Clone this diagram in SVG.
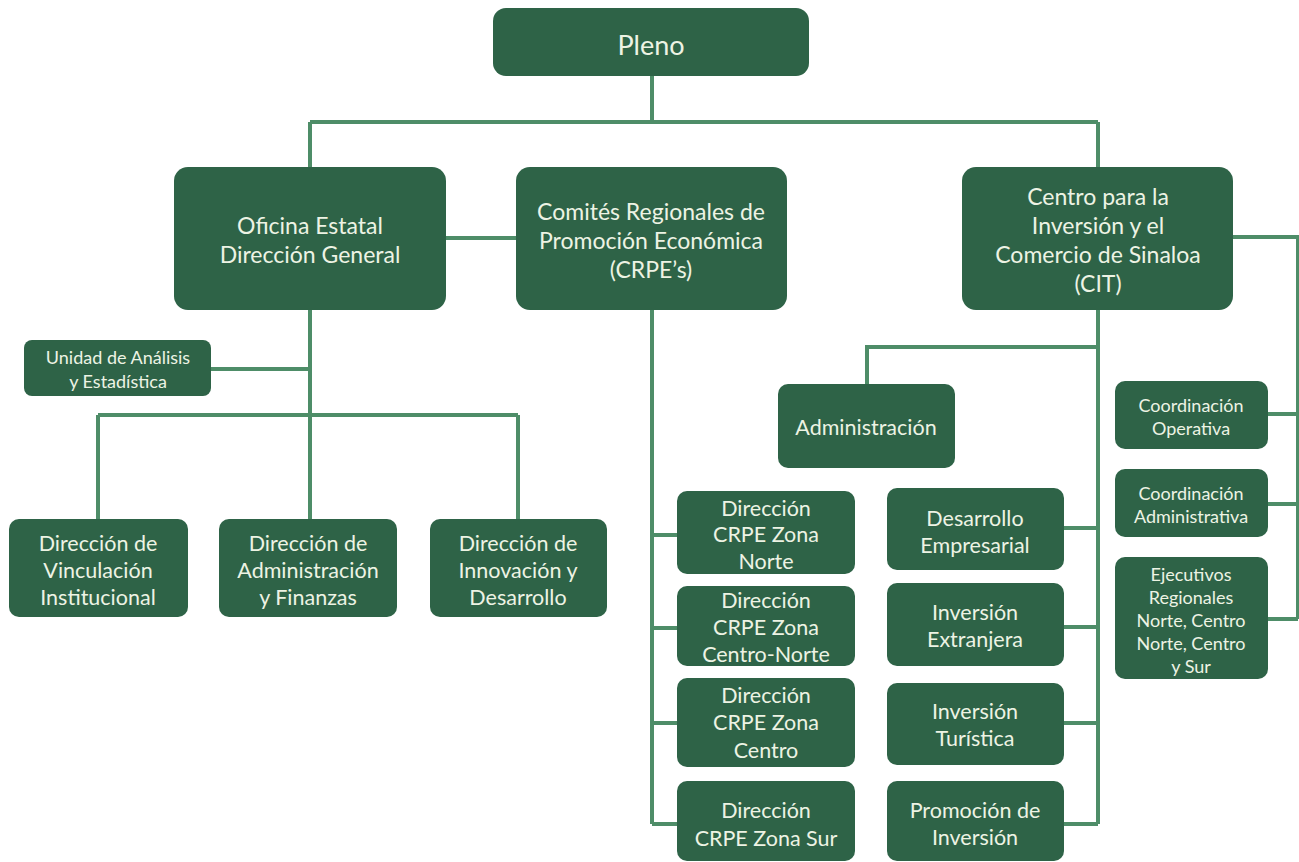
<svg xmlns="http://www.w3.org/2000/svg" width="1299" height="862" viewBox="0 0 1299 862">
<style>
.b{fill:#2e6347}
.t{fill:#edf3e4;font-family:Lato,"Open Sans",sans-serif;text-anchor:middle;dominant-baseline:central}
.l{fill:none;stroke:#4e8d68;stroke-width:4}
.s16{font-size:18px}.s20{font-size:21.5px}.s21{font-size:23px}.s23{font-size:27px}
</style>
<rect width="1299" height="862" fill="#ffffff"/>
<g id="connectors" class="l">
<path d="M652 76V122M310 122H1098M310 122V168M1098 122V168"/>
<path d="M446 238H516"/>
<path d="M1233 237H1298V619M1268 414H1298M1268 504H1298M1268 619H1298"/>
<path d="M310 310V415M211 369H310M98 415H518M98 415V519M310 415V519M518 415V519"/>
<path d="M652 310V824M652 535H677M652 628H677M652 723H677M652 824H677"/>
<path d="M1098 310V824M1098 347H867V384M1064 528H1098M1064 627H1098M1064 723H1098M1064 824H1098"/>
</g>
<g id="pleno"><rect class="b" x="493" y="8" width="316" height="68" rx="13"/><text class="t s23" x="651" y="44">Pleno</text></g>
<g id="oficina"><rect class="b" x="174" y="167" width="272" height="143" rx="14"/><text class="t s21" x="310"><tspan x="310" y="225">Oficina Estatal</tspan><tspan x="310" y="254">Dirección General</tspan></text></g>
<g id="crpe"><rect class="b" x="516" y="167" width="271" height="143" rx="14"/><text class="t s21"><tspan x="651" y="211">Comités Regionales de</tspan><tspan x="651" y="240">Promoción Económica</tspan><tspan x="651" y="269">(CRPE’s)</tspan></text></g>
<g id="cit"><rect class="b" x="962" y="167" width="271" height="143" rx="14"/><text class="t s21"><tspan x="1098" y="196">Centro para la</tspan><tspan x="1098" y="225">Inversión y el</tspan><tspan x="1098" y="254">Comercio de Sinaloa</tspan><tspan x="1098" y="283">(CIT)</tspan></text></g>
<g id="unidad"><rect class="b" x="24" y="340" width="187" height="56" rx="8"/><text class="t s16"><tspan x="118" y="357">Unidad de Análisis</tspan><tspan x="118" y="381">y Estadística</tspan></text></g>
<g id="vinculacion"><rect class="b" x="9" y="519" width="179" height="98" rx="10"/><text class="t s20"><tspan x="98" y="543">Dirección de</tspan><tspan x="98" y="570">Vinculación</tspan><tspan x="98" y="597">Institucional</tspan></text></g>
<g id="admfin"><rect class="b" x="219" y="519" width="178" height="98" rx="10"/><text class="t s20"><tspan x="308" y="543">Dirección de</tspan><tspan x="308" y="570">Administración</tspan><tspan x="308" y="597">y Finanzas</tspan></text></g>
<g id="innovacion"><rect class="b" x="430" y="519" width="177" height="98" rx="10"/><text class="t s20"><tspan x="518" y="543">Dirección de</tspan><tspan x="518" y="570">Innovación y</tspan><tspan x="518" y="597">Desarrollo</tspan></text></g>
<g id="administracion"><rect class="b" x="778" y="384" width="177" height="84" rx="10"/><text class="t s20" x="866" y="427">Administración</text></g>
<g id="crpe-norte"><rect class="b" x="677" y="491" width="178" height="83" rx="10"/><text class="t s20"><tspan x="766" y="508">Dirección</tspan><tspan x="766" y="534">CRPE Zona</tspan><tspan x="766" y="561">Norte</tspan></text></g>
<g id="crpe-centronorte"><rect class="b" x="677" y="586" width="178" height="80" rx="10"/><text class="t s20"><tspan x="766" y="600">Dirección</tspan><tspan x="766" y="627">CRPE Zona</tspan><tspan x="766" y="654">Centro-Norte</tspan></text></g>
<g id="crpe-centro"><rect class="b" x="677" y="678" width="178" height="89" rx="10"/><text class="t s20"><tspan x="766" y="695">Dirección</tspan><tspan x="766" y="722">CRPE Zona</tspan><tspan x="766" y="750">Centro</tspan></text></g>
<g id="crpe-sur"><rect class="b" x="677" y="781" width="178" height="80" rx="10"/><text class="t s20"><tspan x="766" y="810">Dirección</tspan><tspan x="766" y="838">CRPE Zona Sur</tspan></text></g>
<g id="desarrollo"><rect class="b" x="887" y="488" width="177" height="82" rx="10"/><text class="t s20"><tspan x="975" y="518">Desarrollo</tspan><tspan x="975" y="545">Empresarial</tspan></text></g>
<g id="extranjera"><rect class="b" x="887" y="583" width="177" height="83" rx="10"/><text class="t s20"><tspan x="975" y="612">Inversión</tspan><tspan x="975" y="639">Extranjera</tspan></text></g>
<g id="turistica"><rect class="b" x="887" y="683" width="177" height="82" rx="10"/><text class="t s20"><tspan x="975" y="711">Inversión</tspan><tspan x="975" y="738">Turística</tspan></text></g>
<g id="promocion"><rect class="b" x="887" y="781" width="177" height="80" rx="10"/><text class="t s20"><tspan x="975" y="810">Promoción de</tspan><tspan x="975" y="837">Inversión</tspan></text></g>
<g id="coord-op"><rect class="b" x="1115" y="381" width="153" height="68" rx="10"/><text class="t s16"><tspan x="1191" y="405">Coordinación</tspan><tspan x="1191" y="428">Operativa</tspan></text></g>
<g id="coord-adm"><rect class="b" x="1115" y="469" width="153" height="68" rx="10"/><text class="t s16"><tspan x="1191" y="493">Coordinación</tspan><tspan x="1191" y="516">Administrativa</tspan></text></g>
<g id="ejecutivos"><rect class="b" x="1115" y="557" width="153" height="122" rx="10"/><text class="t s16"><tspan x="1191" y="574">Ejecutivos</tspan><tspan x="1191" y="597">Regionales</tspan><tspan x="1191" y="620">Norte, Centro</tspan><tspan x="1191" y="643">Norte, Centro</tspan><tspan x="1191" y="666">y Sur</tspan></text></g>
</svg>
